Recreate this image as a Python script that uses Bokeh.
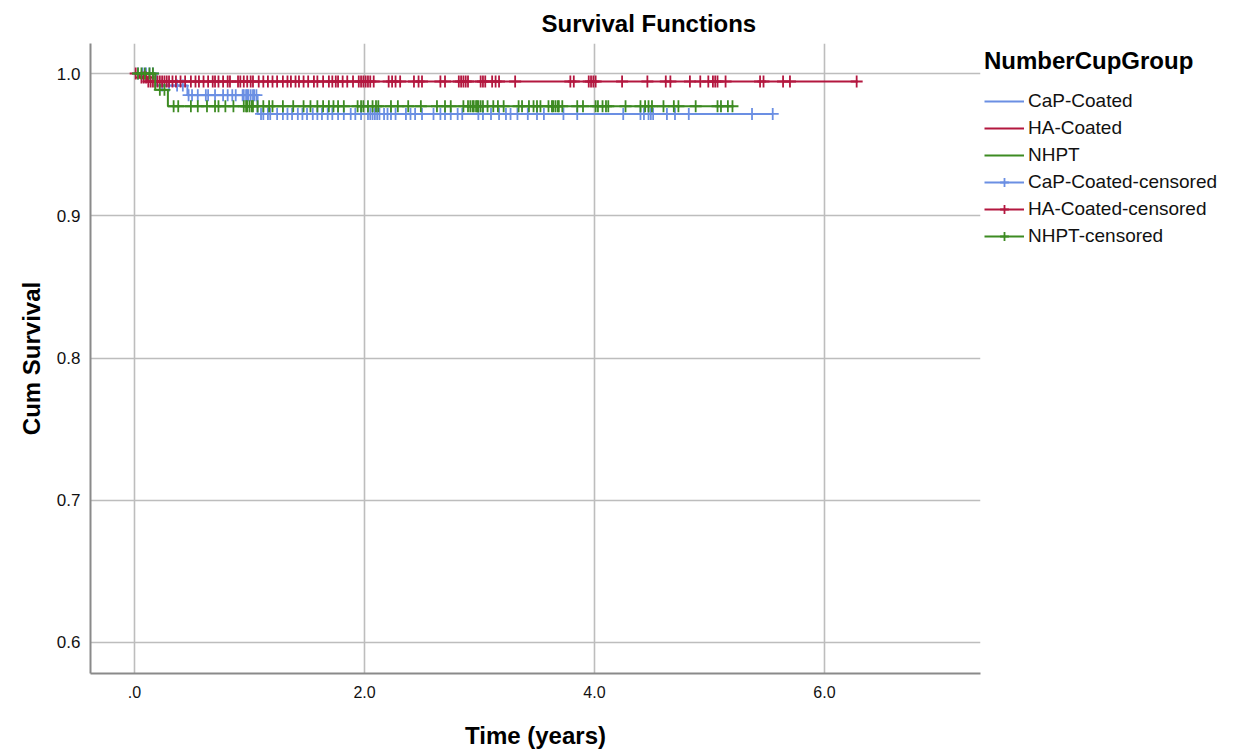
import numpy as np
from bokeh.plotting import figure
from bokeh.models import Range1d, FixedTicker, Legend, LegendItem
from bokeh.embed import file_html
from bokeh.resources import INLINE

# ---------------- data ----------------
groups = ["CaP-Coated", "HA-Coated", "NHPT"]
colors = ["#6b8fe3", "#b3173f", "#3d8b22"]

# Kaplan-Meier step curves (time in years, cumulative survival)
cap_times = [0.0, 0.19, 0.46, 1.07, 5.55]
cap_surv = [1.0, 0.9915, 0.9848, 0.9716, 0.9716]

ha_times = [0.0, 0.045, 0.11, 6.29]
ha_surv = [1.0, 0.9972, 0.9944, 0.9944]

nhpt_times = [0.0, 0.18, 0.29, 5.20]
nhpt_surv = [1.0, 0.9885, 0.9770, 0.9770]

# censored observation times
cap_cens = [0.03, 0.07, 0.10, 0.13, 0.16, 0.24, 0.30, 0.37, 0.42,
            0.47, 0.50, 0.55, 0.62, 0.64, 0.70, 0.77, 0.81, 0.85, 0.88, 0.94, 0.95,
            0.97, 0.98, 0.99, 1.01, 1.03, 1.04, 1.06,
            1.10, 1.12, 1.16, 1.18, 1.24, 1.29, 1.33, 1.37, 1.42, 1.46, 1.50, 1.55,
            1.59, 1.63, 1.68, 1.72, 1.77, 1.82, 1.88, 1.92, 1.97, 2.03, 2.05, 2.07,
            2.09, 2.11, 2.13, 2.17, 2.20, 2.23, 2.27, 2.36, 2.40, 2.44, 2.50, 2.60,
            2.66, 2.70, 2.75, 2.81, 2.85, 2.99, 3.03, 3.10, 3.17, 3.23, 3.27, 3.33,
            3.42, 3.50, 3.56, 3.73, 3.85, 4.25, 4.40, 4.43, 4.47, 4.49, 4.51, 4.63,
            4.70, 4.82, 5.37, 5.55]

ha_cens = [0.01, 0.06, 0.08, 0.10, 0.12, 0.14, 0.16, 0.18, 0.20, 0.22, 0.24, 0.26,
           0.28, 0.30, 0.33, 0.36, 0.40, 0.44, 0.49, 0.53, 0.56, 0.60, 0.64, 0.68,
           0.70, 0.73, 0.77, 0.81, 0.83, 0.90, 0.92, 0.95, 0.98, 1.01, 1.03, 1.08,
           1.12, 1.16, 1.20, 1.24, 1.29, 1.33, 1.36, 1.40, 1.43, 1.47, 1.51, 1.56,
           1.59, 1.64, 1.69, 1.72, 1.75, 1.77, 1.81, 1.85, 1.90, 1.95, 1.97, 1.99,
           2.01, 2.03, 2.05, 2.08, 2.21, 2.24, 2.27, 2.31, 2.43, 2.47, 2.50, 2.66,
           2.70, 2.82, 2.84, 2.86, 2.88, 2.90, 3.01, 3.03, 3.05, 3.11, 3.14, 3.17,
           3.31, 3.79, 3.82, 3.95, 3.97, 3.99, 4.01, 4.24, 4.46, 4.62, 4.66, 4.83,
           4.92, 4.99, 5.03, 5.05, 5.07, 5.14, 5.44, 5.47, 5.64, 5.70, 6.28]

nhpt_cens = [0.03, 0.06, 0.09, 0.13, 0.16, 0.22, 0.26,
             0.34, 0.38, 0.49, 0.55, 0.63, 0.70, 0.73, 0.79, 0.86, 0.95, 0.97,
             0.98, 1.00, 1.02, 1.03, 1.07, 1.12, 1.17, 1.20, 1.29, 1.38, 1.47, 1.53,
             1.59, 1.64, 1.69, 1.73, 1.77, 1.82, 1.94, 1.97, 1.99, 2.03, 2.07, 2.10,
             2.12, 2.23, 2.29, 2.38, 2.49, 2.63, 2.70, 2.75, 2.86, 2.90, 2.92, 2.94,
             2.95, 2.97, 2.98, 2.99, 3.01, 3.03, 3.07, 3.12, 3.16, 3.21, 3.34, 3.37,
             3.43, 3.47, 3.50, 3.53, 3.60, 3.63, 3.64, 3.66, 3.68, 3.69, 3.72, 3.85,
             3.90, 4.01, 4.03, 4.07, 4.10, 4.12, 4.27, 4.40, 4.44, 4.47, 4.50, 4.60,
             4.69, 4.73, 4.88, 5.07, 5.10, 5.16, 5.20]

x_ticks = [0, 2, 4, 6]
x_tick_labels = [".0", "2.0", "4.0", "6.0"]
y_ticks = [0.6, 0.7, 0.8, 0.9, 1.0]
y_tick_labels = ["0.6", "0.7", "0.8", "0.9", "1.0"]

curves = [(cap_times, cap_surv, cap_cens),
          (ha_times, ha_surv, ha_cens),
          (nhpt_times, nhpt_surv, nhpt_cens)]

# ---------------- figure ----------------
FONT = "Liberation Sans"
p = figure(frame_width=890, frame_height=630, output_backend="svg",
           toolbar_location=None,
           x_range=Range1d(-0.383, 7.357), y_range=Range1d(0.5782, 1.0211),
           min_border_left=90, min_border_right=0, min_border_top=42,
           min_border_bottom=74, title="Survival Functions")
p.outline_line_color = None
p.background_fill_color = "white"
p.border_fill_color = "white"

p.title.align = "left"
p.title.offset = 451
p.title.text_font = FONT
p.title.text_font_size = "24px"
p.title.text_font_style = "bold"
p.title.text_color = "#000000"
p.title.standoff = 14

for ax in (p.xaxis[0], p.yaxis[0]):
    ax.axis_line_color = "#8a8a8a"
    ax.axis_line_width = 2
    ax.major_tick_line_color = None
    ax.minor_tick_line_color = None
    ax.major_tick_out = 0
    ax.major_tick_in = 0
    ax.axis_label_text_font = FONT
    ax.axis_label_text_font_style = "bold"
    ax.axis_label_text_font_size = "24px"
    ax.axis_label_text_color = "#000000"
    ax.major_label_text_color = "#111111"

p.xaxis.ticker = FixedTicker(ticks=x_ticks)
p.xaxis.major_label_overrides = {t: l for t, l in zip(x_ticks, x_tick_labels)}
p.xaxis.major_label_text_font = FONT
p.xaxis.major_label_text_font_size = "16px"
p.xaxis.major_label_standoff = 12
p.xaxis.axis_label = "Time (years)"
p.xaxis.axis_label_standoff = 21

p.yaxis.ticker = FixedTicker(ticks=y_ticks)
p.yaxis.major_label_overrides = {t: l for t, l in zip(y_ticks, y_tick_labels)}
p.yaxis.major_label_text_font = FONT
p.yaxis.major_label_text_font_size = "17px"
p.yaxis.major_label_standoff = 10
p.yaxis.axis_label = "Cum Survival"
p.yaxis.axis_label_standoff = 9

p.xgrid.ticker = FixedTicker(ticks=x_ticks)
p.ygrid.ticker = FixedTicker(ticks=y_ticks)
for g in (p.xgrid[0], p.ygrid[0]):
    g.grid_line_color = "#bdbdbd"
    g.grid_line_width = 1.6

step_renderers = []
cens_renderers = []
for (times, surv, cens), col in zip(curves, colors):
    r = p.step(x=times, y=surv, mode="after", line_color=col, line_width=2)
    t_arr = np.asarray(times)
    s_arr = np.asarray(surv)
    idx = np.searchsorted(t_arr, np.asarray(cens), side="right") - 1
    cy = s_arr[idx]
    c = p.scatter(x=cens, y=cy, marker="cross", size=12,
                  line_color=col, line_width=1.8, fill_color=None)
    step_renderers.append(r)
    cens_renderers.append(c)

items = []
for g, r in zip(groups, step_renderers):
    items.append(LegendItem(label=g, renderers=[r]))
for g, r, c in zip(groups, step_renderers, cens_renderers):
    items.append(LegendItem(label=g + "-censored", renderers=[r, c]))

legend = Legend(items=items, location="top_left", title="NumberCupGroup")
legend.margin = 4
legend.padding = 6
legend.border_line_color = None
legend.background_fill_alpha = 0
legend.title_text_font = FONT
legend.title_text_font_style = "bold"
legend.title_text_font_size = "24px"
legend.title_text_color = "#000000"
legend.title_standoff = 15
legend.label_text_font = FONT
legend.label_text_font_size = "19px"
legend.label_text_color = "#111111"
legend.glyph_width = 40
legend.glyph_height = 22
legend.label_height = 22
legend.label_standoff = 4
legend.spacing = 5
p.add_layout(legend, "right")

open("out.html", "w").write(file_html(p, INLINE))
